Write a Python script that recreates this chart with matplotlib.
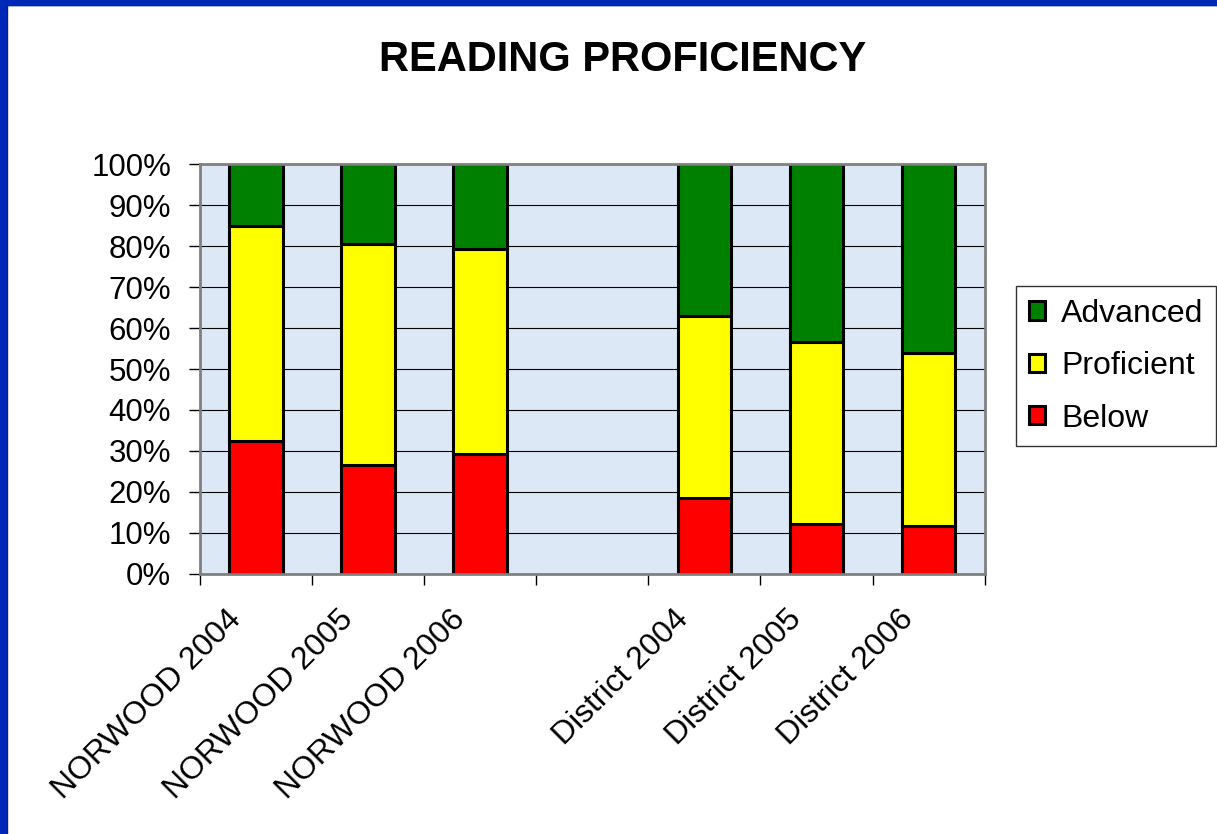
#!/usr/bin/env python3
"""Reading proficiency stacked bars (Norwood vs. District, 2004-2006)."""

import numpy as np
import matplotlib

matplotlib.use("Agg")
import matplotlib.pyplot as plt
from matplotlib.patches import Rectangle
from matplotlib.transforms import ScaledTranslation

plt.rcParams["font.family"] = ["Liberation Sans", "DejaVu Sans"]

# Data (percent of students); empty slot separates the two groups
categories = [
    "NORWOOD 2004",
    "NORWOOD 2005",
    "NORWOOD 2006",
    "",
    "District 2004",
    "District 2005",
    "District 2006",
]
below = [32.5, 26.5, 29.2, None, 18.6, 12.2, 11.6]
proficient = [52.5, 54.0, 50.0, None, 44.4, 44.5, 42.3]
advanced = [15.0, 19.5, 20.8, None, 37.0, 43.3, 46.1]

series_names = ["Below", "Proficient", "Advanced"]
series_colors = ["#FF0000", "#FFFF00", "#008000"]


def to_array(values):
    return np.array([np.nan if v is None else v for v in values], dtype=float)


fig = plt.figure(figsize=(12.17, 8.34), dpi=100, facecolor="white")
ax = fig.add_axes([0.1645, 0.312, 0.6445, 0.491])
ax.set_facecolor("#DCE8F6")

positions = np.arange(len(categories))
series = [to_array(below), to_array(proficient), to_array(advanced)]
has_data = ~np.isnan(series[0])

bottom = np.zeros(len(categories))
handles = []
for values, name, color in zip(series, series_names, series_colors):
    bars = ax.bar(
        positions[has_data],
        values[has_data],
        width=0.48,
        bottom=bottom[has_data],
        color=color,
        edgecolor="black",
        linewidth=2.2,
        label=name,
        zorder=3,
    )
    handles.append(bars)
    bottom = bottom + np.nan_to_num(values)

ax.set_xlim(-0.5, len(categories) - 0.5)
ax.set_ylim(0, 100)

# y axis: percent ticks with black gridlines
ax.set_yticks(np.arange(0, 101, 10))
ax.set_yticklabels(["{}%".format(v) for v in range(0, 101, 10)])
ax.yaxis.grid(True, color="black", linewidth=0.8, zorder=1)
ax.set_axisbelow(True)
ax.tick_params(axis="y", direction="out", length=8, width=1, pad=13,
               labelsize=22.5, color="black")

# x axis: tick marks between categories, labels at centres
ax.set_xticks(np.arange(-0.5, len(categories), 1.0))
ax.set_xticklabels([])
ax.tick_params(axis="x", which="major", direction="out", length=8, width=1,
               color="black")
ax.set_xticks(positions, minor=True)
ax.set_xticklabels(categories, minor=True, rotation=45, ha="right",
                   va="top", rotation_mode="anchor", fontsize=23)
ax.tick_params(axis="x", which="minor", length=0, pad=0)
offset = ScaledTranslation(-22 / 72, -22 / 72, fig.dpi_scale_trans)
for label in ax.get_xticklabels(minor=True):
    label.set_transform(label.get_transform() + offset)

for side in ["top", "right", "bottom", "left"]:
    ax.spines[side].set_color("#808080")
    ax.spines[side].set_linewidth(2)
    ax.spines[side].set_zorder(4)

fig.text(0.512, 0.928, "READING PROFICIENCY", ha="center", va="center",
         fontsize=30, fontweight="bold")

legend = fig.legend(
    handles[::-1],
    series_names[::-1],
    loc="upper left",
    bbox_to_anchor=(0.835, 0.657),
    fontsize=23,
    frameon=True,
    fancybox=False,
    edgecolor="black",
    handlelength=0.5,
    handleheight=0.5,
    handletextpad=0.5,
    labelspacing=0.7,
    borderpad=0.4,
    borderaxespad=0,
)
legend.get_frame().set_linewidth(1)

# blue slide border on top and left edges
fig.patches.append(Rectangle((0, 0), 0.005, 1, transform=fig.transFigure,
                             color="#0028B8", zorder=10))
fig.patches.append(Rectangle((0, 1 - 0.0065), 1, 0.0065,
                             transform=fig.transFigure, color="#0028B8",
                             zorder=10))
fig.add_artist(plt.Line2D([0.0055, 0.0055], [0, 0.9935], color="#202030",
                          linewidth=1, transform=fig.transFigure))
fig.add_artist(plt.Line2D([0.0055, 1], [0.9935, 0.9935], color="#202030",
                          linewidth=1, transform=fig.transFigure))

fig.savefig("out.png", dpi=100)
